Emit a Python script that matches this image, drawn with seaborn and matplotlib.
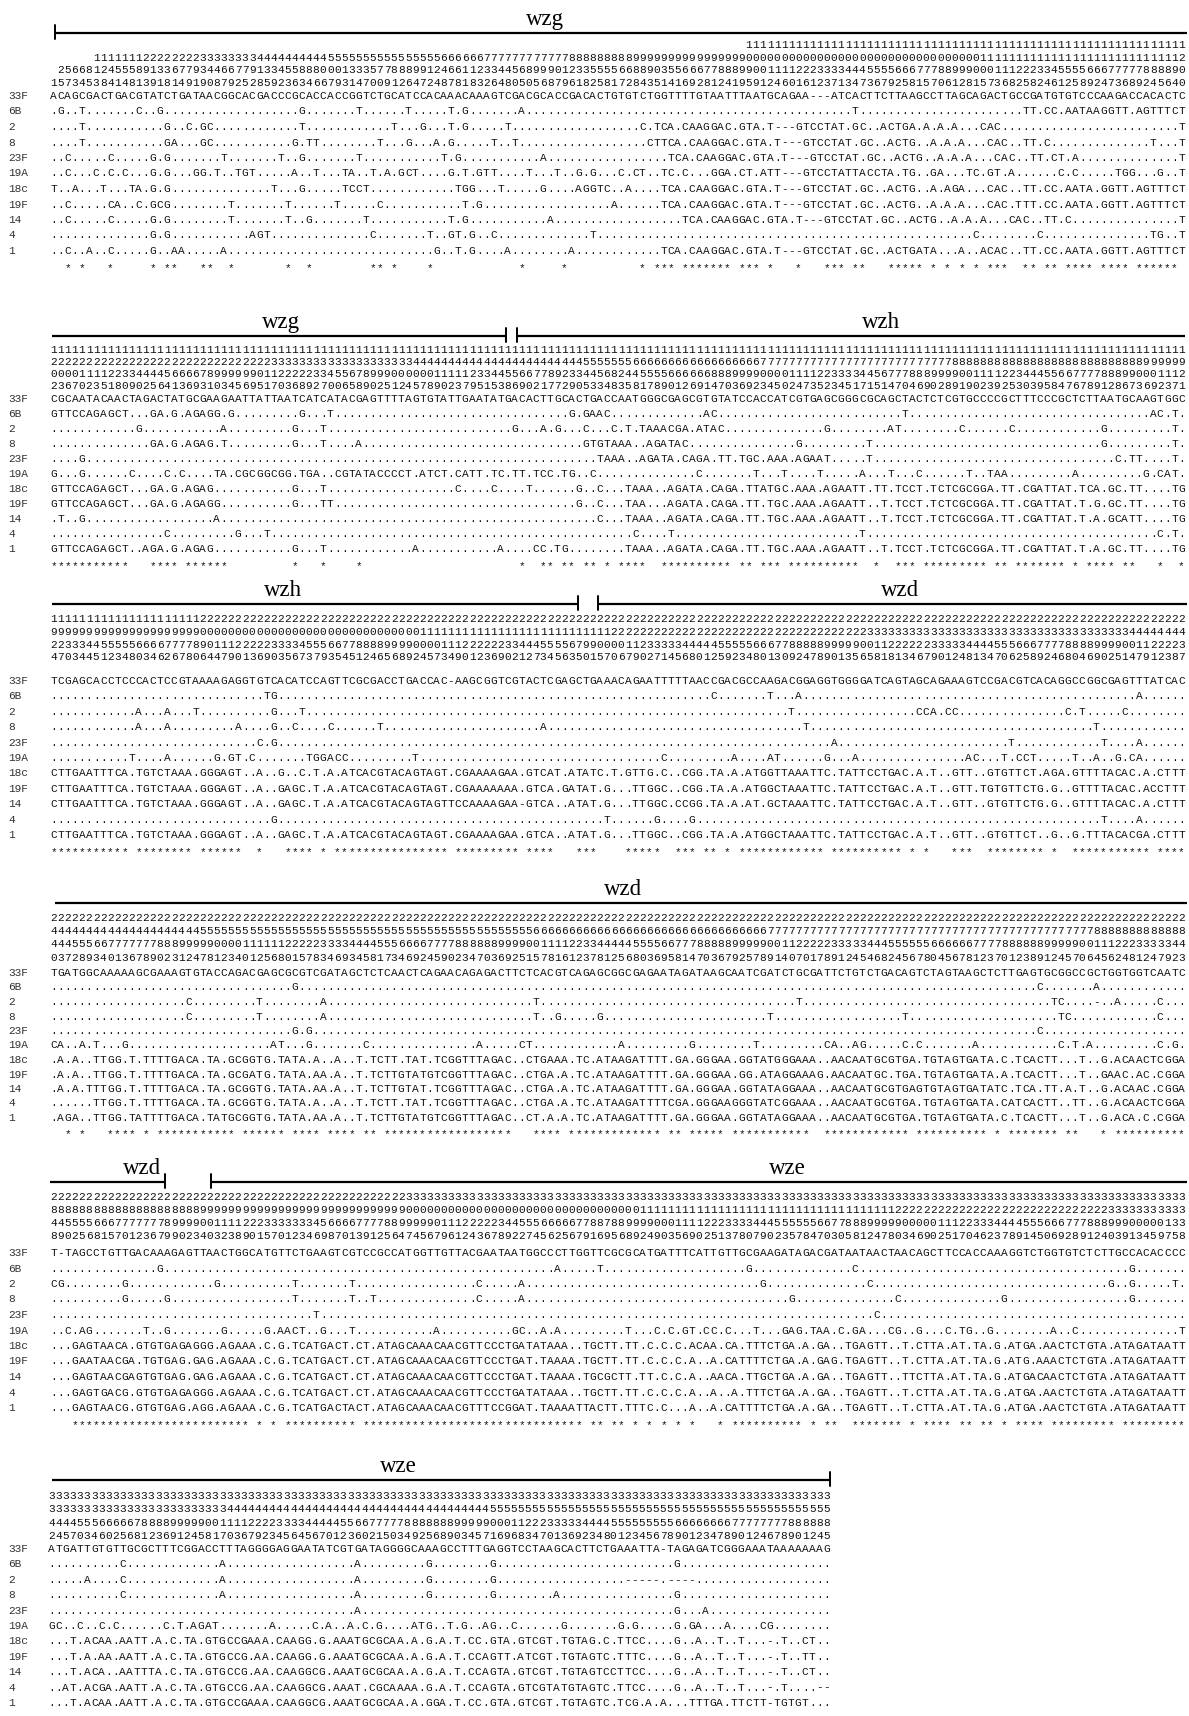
import matplotlib
matplotlib.use("Agg")
import matplotlib.pyplot as plt
from matplotlib.font_manager import FontProperties
import seaborn as sns

# ======================= DATA =======================
STRAINS = ["33F", "6B", "2", "8", "23F", "19A", "18c", "19F", "14", "4", "1"]

# ---------- block 1 (wzg) ----------
B1_RUN_A = [(" ", 98), ("1", 62)]
B1_RUN_B = [(" ", 6), ("1", 7), ("2", 8), ("3", 8), ("4", 10), ("5", 16), ("6", 6), ("7", 12),
            ("8", 9), ("9", 16), ("0", 33), ("1", 28), ("2", 1)]
B1_TENS = (" 25668124555891336779344667791334558880001333577888991246611233445689990123355",
           "555566889035566677888990011112223333444555566677788999000111222334555566677777888890")
B1_UNITS = ("157345384148139181491908792528592363466793147009126472487818326480505687961825",
            "258172843514169281241959124601612371347367925815706128157368258246125892473689245640")
B1_SEQ_L = [
    "ACAGCGACTGACGTATCTGATAACGGCACGACCCGCACCACCGGTCTGCATCCACAAACAAAGTCGACGCACCGACAC",
    ".G..T.......C..G...................G.......T......T.....T.G.......A..........",
    "....T...........G..C.GC............T............T...G...T.G.....T..........",
    "....T...........GA...GC...........G.TT........T...G...A.G.....T..T........",
    "..C.....C.....G.G.......T.......T..G.......T...........T.G...........A....",
    "..C...C.C.C...G.G...GG.T..TGT.....A..T...TA..T.A.GCT....G.T.GTT....T...T..G.G.",
    "T..A...T...TA.G.G..............T...G.....TCCT............TGG...T.....G....AGT",
    "..C.....CA..C.GCG........T.......T......T.....C...........T.G...............",
    "..C.....C.....G.G........T.......T..G.......T...........T.G...........A....",
    "..............G.G...........AGT..............C.......T..GT.G..C.............GT",
    "..C..A..C.....G..AA.....A.............................G..T.G....A........A....",
]
B1_SEQ_R = [
    "ACTGTGTCTGGTTTTGTAATTTAATGCAGAA---ATCACTTCTTAAGCCTTAGCAGACTGCCGATGTGTCCCAAGACCACACTC",
    "..................................T.......................TT.CC.AATAAGGTT.AGTTTCT",
    ".........C.TCA.CAAGGAC.GTA.T---GTCCTAT.GC..ACTGA.A.A.A...CAC.........................T",
    ".........CTTCA.CAAGGAC.GTA.T---GTCCTAT.GC..ACTG..A.A.A...CAC..TT.C..............T...T",
    "..........TCA.CAAGGAC.GTA.T---GTCCTAT.GC..ACTG..A.A.A...CAC..TT.CT.A..............T",
    "G...C.CT..TC.C...GGA.CT.ATT---GTCCTATTACCTA.TG..GA...TC.GT.A......C.C.....TGG...G..T",
    "GTC..A....TCA.CAAGGAC.GTA.T---GTCCTAT.GC..ACTG..A.AGA...CAC..TT.CC.AATA.GGTT.AGTTTCT",
    "...A......TCA.CAAGGAC.GTA.T---GTCCTAT.GC..ACTG..A.A.A...CAC.TTT.CC.AATA.GGTT.AGTTTCT",
    "..........TCA.CAAGGAC.GTA.T---GTCCTAT.GC..ACTG..A.A.A...CAC..TT.C...............T",
    "GT.....................................................C........C...............TG..T",
    "..........TCA.CAAGGAC.GTA.T---GTCCTAT.GC..ACTGATA...A..ACAC..TT.CC.AATA.GGTT.AGTTTCT",
]
B1_STARS = ("  * *   *     * **   **  *       *  *        ** *    *            *     *   **",
            "**       * *** ******* *** *   *   *** **   ***** * * * * ***  ** ** **** **** ****** ")

# ---------- block 2 (wzg | wzh) ----------
B2_RUN_A = [("1", 160)]
B2_RUN_B = [("2", 31), ("3", 20), ("4", 24), ("5", 7), ("6", 18), ("7", 27), ("8", 27), ("9", 6)]
B2_TENS = ("000011112233444456666789999990112222233455678999000000111112334455667789233455",
           "456824455556666668889999000011112233334456777888999900111122344455667777888990001112")
B2_UNITS = ("236702351809025641369310345695170368927006589025124578902379515386902177290533",
            "334835817890126914703692345024735234517151470469028919023925303958476789128673692371")
B2_SEQ_L = [
    "CGCAATACAACTAGACTATGCGAAGAATTATTAATCATCATACGAGTTTTAGTGTATTGAATATGACACTTGCACTGA",
    "GTTCCAGAGCT...GA.G.AGAGG.G.........G...T.................................G.GAC",
    "............G...........A.........G...T..........................G...A.G...C",
    "..............GA.G.AGAG.T.........G...T....A...............................G...C",
    "....G.........................................................................C",
    "G...G......C....C.C....TA.CGCGGCGG.TGA..CGTATACCCCT.ATCT.CATT.TC.TT.TCC.TG...C",
    "GTTCCAGAGCT...GA.G.AGAG...........G...T..................C....C....T......G.G.C",
    "GTTCCAGAGCT...GA.G.AGAGG..........G...TT..................................G...C",
    ".T..G..................A....................................................T..C",
    "................C.........G...T.............................................G..AC",
    "GTTCCAGAGCT..AGA.G.AGAG...........G...T............A...........A....CC.TG....",
]
B2_SEQ_R = [
    "GACCAATGGGCGAGCGTGTATCCACCATCGTGAGCGGGCGCAGCTACTCTCGTGCCCCGCTTTCCCGCTCTTAATGCAAGTGGC",
    "AC.............AC..........................T..................................AC.T.",
    ".C.T.TAAACGA.ATAC..............G........AT........C......C............G.........T.",
    ".C.TGTAAA..AGATAC...............G.........T................................G.........T.",
    ".C...TAAA..AGATA.CAGA.TT.TGC.AAA.AGAAT.....T..................................C.TT....T.",
    ".C..............C.......T...T....T.....A...T...C......T..TAA.........A.........G.CAT.",
    ".C...TAAA..AGATA.CAGA.TTATGC.AAA.AGAATT.TT.TCCT.TCTCGCGGA.TT.CGATTAT.TCA.GC.TT....TG",
    ".C...TAA...AGATA.CAGA.TT.TGC.AAA.AGAATT..T.TCCT.TCTCGCGGA.TT.CGATTAT.T.G.GC.TT....TG",
    ".C...TAAA..AGATA.CAGA.TT.TGC.AAA.AGAATT..T.TCCT.TCTCGCGGA.TT.CGATTAT.T.A.GCATT....TG",
    "ACT..............C....T..........................T.........................................C.T.",
    ".....TAAA..AGATA.CAGA.TT.TGC.AAA.AGAATT..T.TCCT.TCTCGCGGA.TT.CGATTAT.T.A.GC.TT....TG",
]
B2_STARS = ("***********   **** ******         *   *    *                      *  ** ** ***",
            "** * ****  ********** ** *** **********  *  *** ********* ** ******* * **** **   *  *")

# ---------- block 3 (wzh | wzd) ----------
B3_RUN_A = [("1", 21), ("2", 139)]
B3_RUN_B = [("9", 21), ("0", 31), ("1", 27), ("2", 36), ("3", 37), ("4", 8)]
B3_TENS = ("223334455555666677778901112222233334555667788889999000011122222233444555567999",
           "99900001123333344444555556667788888999990011222222333334444555666777788889999001122223")
B3_UNITS = ("470344512348034626780644790136903567379354512465689245734901236902127345635015",
            "157067902714568012592348013092478901356581813467901248134706258924680469025147912387")
B3_SEQ_L = [
    "TCGAGCACCTCCCACTCCGTAAAAGAGGTGTCACATCCAGTTCGCGACCTGACCAC-AAGCGGTCGTACTCGAGCTGA",
    "..............................TG..............................................",
    "............A...A...T..........G...T..........................................",
    "............A...A.........A....G..C....C......T......................A.......",
    ".............................C.G..............................................",
    "...........T....A......G.GT.C.......TGGACC.........T............................",
    "CTTGAATTTCA.TGTCTAAA.GGGAGT..A..G..C.T.A.ATCACGTACAGTAGT.CGAAAAGAA.GTCAT.ATATC",
    "CTTGAATTTCA.TGTCTAAA.GGGAGT..A..GAGC.T.A.ATCACGTACAGTAGT.CGAAAAAAA.GTCA.GATAT.",
    "CTTGAATTTCA.TGTCTAAA.GGGAGT..A..GAGC.T.A.ATCACGTACAGTAGTTCCAAAAGAA-GTCA..ATAT.",
    "...............................G..............................................",
    "CTTGAATTTCA.TGTCTAAA.GGGAGT..A..GAGC.T.A.ATCACGTACAGTAGT.CGAAAAGAA.GTCA..ATAT.",
]
B3_SEQ_R = [
    "GAAACAGAATTTTTAACCGACGCCAAGACGGAGGTGGGGATCAGTAGCAGAAAGTCCGACGTCACAGGCCGGCGAGTTTATCAC",
    "..................C.......T...A...............................................A......",
    "..........................T.................CCA.CC...............C.T.....C........",
    "..........................T........................................T............",
    "..................................A........................T............T....A......",
    "..........C.........A....AT......G...A...............AC...T.CCT.....T..A..G.CA......",
    "TC.T.GTTG.C..CGG.TA.A.ATGGTTAAATTC.TATTCCTGAC.A.T..GTT..GTGTTCT.AGA.GTTTTACAC.A.CTTT",
    "T.G...TTGGC..CGG.TA.A.ATGGCTAAATTC.TATTCCTGAC.A.T..GTT.TGTGTTCTG.G..GTTTTACAC.ACCTTT",
    "T.G...TTGGC.CCGG.TA.A.AT.GCTAAATTC.TATTCCTGAC.A.T..GTT..GTGTTCTG.G..GTTTTACAC.A.CTTT",
    ".....T......G....G.........................................................T....A......",
    "T.G...TTGGC..CGG.TA.A.ATGGCTAAATTC.TATTCCTGAC.A.T..GTT..GTGTTCT..G..G.TTTACACGA.CTTT",
]
B3_STARS = ("*********** ******** ******  *   **** * **************** ********* ****   ****",
            "* *    *****  *** ** * ************ ********** * *   ***  ******** *  *********** ****")

# ---------- block 4 (wzd) ----------
B4_RUN_A = [("2", 160)]
B4_RUN_B = [("4", 21), ("5", 47), ("6", 33), ("7", 46), ("8", 13)]
B4_TENS = ("444555667777777888999990000111111222223333444455566667777888888999900111122333",
           "3344444555566777888889999900112222233333444555555666666777788888899999001112223333344")
B4_UNITS = ("037289340136789023124781234012568015783469345817346924590234703692515781612378",
            "781256803695814703679257891407017891245468245678045678123701238912457064562481247923")
B4_SEQ_L = [
    "TGATGGCAAAAAGCGAAAGTGTACCAGACGAGCGCGTCGATAGCTCTCAACTCAGAACAGAGACTTCTCACGTCAGAG",
    "..................................G...........................................",
    "...................C.........T........A.............................T........",
    "...................C.........T........A.............................T..G.....",
    "..................................G.G.........................................",
    "CA..A.T...G....................AT...G.......C...............A.....CT..........",
    ".A.A..TTGG.T.TTTTGACA.TA.GCGGTG.TATA.A..A..T.TCTT.TAT.TCGGTTTAGAC..CTGAAA.TC.A",
    ".A.A..TTGG.T.TTTTGACA.TA.GCGATG.TATA.AA.A..T.TCTTGTATGTCGGTTTAGAC..CTGA.A.TC.A",
    ".A.A.TTTGG.T.TTTTGACA.TA.GCGGTG.TATA.AA.A..T.TCTTGTAT.TCGGTTTAGAC..CTGA.A.TC.A",
    "......TTGG.T.TTTTGACA.TA.GCGGTG.TATA.A..A..T.TCTT.TAT.TCGGTTTAGAC..CTGA.A.TC.A",
    ".AGA..TTGG.TATTTTGACA.TATGCGGTG.TATA.AA.A..T.TCTTGTATGTCGGTTTAGAC..CT.A.A.TC.A",
]
B4_SEQ_R = [
    "AGCGGCGAGAATAGATAAGCAATCGATCTGCGATTCTGTCTGACAGTCTAGTAAGCTCTTGAGTGCGGCCGCTGGTGGTCAATC",
    "...............................................................C.......A............",
    "........................T...................................TC....-..A.....C...",
    "G.......................T..................T.....................TC............C...",
    "...............................................................C....................",
    "...A.........G........T.........CA..AG.....C.C.......A...........C.T.A.........C.G.",
    ".ATAAGATTTT.GA.GGGAA.GGTATGGGAAA..AACAATGCGTGA.TGTAGTGATA.C.TCACTT...T..G.ACAACTCGGA",
    ".ATAAGATTTT.GA.GGGAA.GG.ATAGGAAAG.AACAATGC.TGA.TGTAGTGATA.A.TCACTT...T..GAAC.AC.CGGA",
    ".ATAAGATTTT.GA.GGGAA.GGTATAGGAAA..AACAATGCGTGAGTGTAGTGATATC.TCA.TT.A.T..G.ACAAC.CGGA",
    ".ATAAGATTTTCGA.GGGAAGGGTATCGGAAA..AACAATGCGTGA.TGTAGTGATA.CATCACTT..TT..G.ACAACTCGGA",
    ".ATAAGATTTT.GA.GGGAA.GGTATAGGAAA..AACAATGCGTGA.TGTAGTGATA.C.TCACTT...T..G.ACA.C.CGGA",
]
B4_STARS = ("  * *   **** * *********** ****** **** **** ** ******************   **** **** *",
            "********** ** ***** ***********  ************ ********** * ******* **   * **********")

# ---------- block 5 (wzd | wze) ----------
B5_RUN_A = [("2", 50), ("3", 110)]
B5_RUN_B = [("8", 21), ("9", 29), ("0", 33), ("1", 36), ("2", 30), ("3", 11)]
B5_TENS = ("445555666777777789999001111222333333345666677778899999011122222344555666667788",
           "7889999000111122233334445555556677888999990000011122333444455566677788899900000133")
B5_UNITS = ("890256815701236799023403238901570123469870139125647456796124367892274562567916",
            "169568924903569025137807902357847030581247803469025170462378914506928912403913459758")
B5_SEQ_L = [
    "T-TAGCCTGTTGACAAAGAGTTAACTGGCATGTTCTGAAGTCGTCCGCCATGGTTGTTACGAATAATGGCCCTTGGTT",
    "...............G.......................................................A......",
    "CG........G............G..........T.......T.................C.....A...........",
    "..........G.....G.................T.......T..T..............C.....A...........",
    ".....................................T........................................",
    "..C.AG.......T..G.......G.....G.AACT..G...T...........A..........GC..A.A.......",
    "...GAGTAACA.GTGTGAGAGGG.AGAAA.C.G.TCATGACT.CT.ATAGCAAACAACGTTCCCTGATATAAA..TGC",
    "...GAATAACGA.TGTGAG.GAG.AGAAA.C.G.TCATGACT.CT.ATAGCAAACAACGTTCCCTGAT.TAAAA.TGC",
    "...GAGTAACGAGTGTGAG.GAG.AGAAA.C.G.TCATGACT.CT.ATAGCAAACAACGTTCCCTGAT.TAAAA.TGC",
    "...GAGTGACG.GTGTGAGAGGG.AGAAA.C.G.TCATGACT.CT.ATAGCAAACAACGTTCCCTGATATAAA..TGC",
    "...GAGTAACG.GTGTGAG.AGG.AGAAA.C.G.TCATGACTACT.ATAGCAAACAACGTTTCCGGAT.TAAAATTAC",
]
B5_SEQ_R = [
    "TTCGCGCATGATTTCATTGTTGCGAAGATAGACGATAATAACTAACAGCTTCCACCAAAGGTCTGGTGTCTCTTGCCACACCCC",
    "....T....................G..............C......................................G.......",
    ".........................G..............C.................................G..G.....T.",
    "..........................G..............C..............G.................G.......",
    "........................................C...........................................",
    ".....T...C.C.GT.CC.C...T...GAG.TAA.C.GA...CG..G...C.TG..G........A..C..............T",
    "GCTT.TT.C.C.C.ACAA.CA.TTTCTGA.A.GA..TGAGTT..T.CTTA.AT.TA.G.ATGA.AACTCTGTA.ATAGATAATT",
    "GCTT.TT.C.C.C.A..A.CATTTTCTGA.A.GAG.TGAGTT..T.CTTA.AT.TA.G.ATG.AAACTCTGTA.ATAGATAATT",
    "GCTT.TT.C.C.A..AACA.TTGCTGA.A.GA..TGAGTT..TTCTTA.AT.TA.G.ATGACAACTCTGTA.ATAGATAATT",
    "GCTT.TT.C.C.C.A..A..A.TTTCTGA.A.GA..TGAGTT..T.CTTA.AT.TA.G.ATGA.AACTCTGTA.ATAGATAATT",
    "ACTT.TTTC.C...A..A.CATTTTCTGA.A.GA..TGAGTT..T.CTTA.AT.TA.G.ATGA.AACTCTGTA.ATAGATAATT",
]
B5_STARS = ("   ************************* * * ********** ******************************* ***",
            "**** ** * * * * *   * ********** * **  ******* * **** ** ** * **** ********* *********")

# ---------- block 6 (wze) ----------
B6_RUN_A = [("3", 110)]
B6_RUN_B = [("3", 25), ("4", 37), ("5", 48)]
B6_TENS = ("444455566666788889999900111122223333444445566777778888",
           "8888899999000112223333344445555555556666666677777777888888")
B6_UNITS = ("245703460256812369124581703679234564567012360215034925",
            "2568903457169683470136923480123456789012347890124678901245")
B6_SEQ_L = [
    "ATGATTGTGTTGCGCTTTCGGACCTTTAGGGGAGGAATATCGTGATAGGGGCAA",
    "..........C.............A..................A.........G",
    ".....A....C.............A..................A.........G",
    "..........C.............A..................A.........G",
    "...........................................A..........",
    "GC..C..C.C......C.T.AGAT.......A.....C.A..A.C.G....ATG",
    "...T.ACAA.AATT.A.C.TA.GTGCCGAAA.CAAGG.G.AAATGCGCAA.A.G",
    "...T.A.AA.AATT.A.C.TA.GTGCCG.AA.CAAGG.G.AAATGCGCAA.A.G",
    "...T.ACA..AATTTA.C.TA.GTGCCG.AA.CAAGGCG.AAATGCGCAA.A.G",
    "..AT.ACGA.AATT.A.C.TA.GTGCCG.AA.CAAGGCG.AAAT.CGCAAAA.G",
    "...T.ACAA.AATT.A.C.TA.GTGCCGAAA.CAAGGCG.AAATGCGCAA.A.G",
]
B6_SEQ_R = [
    "AAAGCCTTTGAGGTCCTAAGCACTTCTGAAATTA-TAGAGATCGGGAAATAAAAAAAG",
    ".G........G.........................G.....................",
    ".G........G..................-----.----...................",
    ".G........G........A................G.....................",
    "....................................G...A.................",
    "TG..T.G..AG..C......G.......G.G.....G.GA...A....CG........",
    ".G.A.T.CC.GTA.GTCGT.TGTAG.C.TTCC....G..A..T..T...-.T..CT..",
    ".G.A.T.CCAGTT.ATCGT.TGTAGTC.TTTC....G..A..T..T...-.T..TT..",
    ".G.A.T.CCAGTA.GTCGT.TGTAGTCCTTCC....G..A..T..T...-.T..CT..",
    ".G.A.T.CCAGTA.GTCGTATGTAGTC.TTCC....G..A..T..T...-.T....--",
    ".GGA.T.CC.GTA.GTCGT.TGTAGTC.TCG.A.A...TTTGA.TTCTT-TGTGT...",
]

BLOCK_DATA = [
    (B1_RUN_A, B1_RUN_B, B1_TENS, B1_UNITS, B1_SEQ_L, B1_SEQ_R, B1_STARS),
    (B2_RUN_A, B2_RUN_B, B2_TENS, B2_UNITS, B2_SEQ_L, B2_SEQ_R, B2_STARS),
    (B3_RUN_A, B3_RUN_B, B3_TENS, B3_UNITS, B3_SEQ_L, B3_SEQ_R, B3_STARS),
    (B4_RUN_A, B4_RUN_B, B4_TENS, B4_UNITS, B4_SEQ_L, B4_SEQ_R, B4_STARS),
    (B5_RUN_A, B5_RUN_B, B5_TENS, B5_UNITS, B5_SEQ_L, B5_SEQ_R, B5_STARS),
    (B6_RUN_A, B6_RUN_B, B6_TENS, B6_UNITS, B6_SEQ_L, B6_SEQ_R, None),
]

# gene brackets: (block, gene, label_x, seg_start, seg_end, tick_at_start, tick_at_end)
GENE_BRACKETS = [
    (0, "wzg", 545, 55, 1187, True, False),
    (1, "wzg", 281, 52, 506, False, True),
    (1, "wzh", 881, 517, 1185, True, False),
    (2, "wzh", 283, 52, 578, False, True),
    (2, "wzd", 900, 598, 1187, True, False),
    (3, "wzd", 623, 55, 1187, False, False),
    (4, "wzd", 142, 50, 165, False, True),
    (4, "wze", 787, 211, 1187, True, False),
    (5, "wze", 398, 52, 830, False, True),
]

# ======================= LAYOUT (pixels) =======================
LAYOUT = [
    dict(w=160, x0=50, x1=1185, rmax=84, line=33,   ny=44,   ndy=12.6, sy=95,   sdy=15.5),
    dict(w=160, x0=50, x1=1185, rmax=84, line=336,  ny=349,  ndy=12.0, sy=398,  sdy=15.0),
    dict(w=160, x0=50, x1=1185, rmax=84, line=604,  ny=618,  ndy=12.8, sy=680,  sdy=15.4),
    dict(w=160, x0=50, x1=1185, rmax=84, line=903,  ny=917,  ndy=13.2, sy=972,  sdy=14.5),
    dict(w=160, x0=50, x1=1185, rmax=84, line=1182, ny=1196, ndy=13.0, sy=1252, sdy=15.5),
    dict(w=110, x0=48, x1=830,  rmax=58, line=1480, ny=1495, ndy=13.3, sy=1548, sdy=15.4),
]
BASE_OFF = 4.0   # baseline below row centre


def runs_to_text(runs):
    return "".join(ch * n for ch, n in runs)


def compose(left, right, width, rmax, fill):
    right = right[-rmax:]
    nleft = width - len(right)
    left = left[:nleft]
    return left + fill * (nleft - len(left)) + right


sns.set_theme(style="white")
plt.rcParams["font.family"] = ["Liberation Mono", "DejaVu Sans Mono"]

MONO = FontProperties(family="Liberation Mono", size=8)
SERIF = FontProperties(family="Liberation Serif", size=16.5)

fig = plt.figure(figsize=(11.89, 17.16), dpi=100)
fig.patch.set_facecolor("white")
ax = fig.add_axes([0, 0, 1, 1])
ax.set_xlim(0, 1189)
ax.set_ylim(1716, 0)
ax.axis("off")


def draw_row(text, lay, yc, color="#111111"):
    pitch = (lay["x1"] - lay["x0"]) / lay["w"]
    yb = yc + BASE_OFF
    for i, ch in enumerate(text):
        if ch != " ":
            ax.text(lay["x0"] + pitch * (i + 0.5), yb, ch, ha="center", va="baseline",
                    fontproperties=MONO, color=color)


for b, (run_a, run_b, tens, units, seq_l, seq_r, stars) in enumerate(BLOCK_DATA):
    lay = LAYOUT[b]
    w, rmax = lay["w"], lay["rmax"]
    num_rows = [runs_to_text(run_a), runs_to_text(run_b),
                compose(tens[0], tens[1], w, rmax, " "),
                compose(units[0], units[1], w, rmax, " ")]
    for k, row in enumerate(num_rows):
        draw_row(row[:w], lay, lay["ny"] + k * lay["ndy"])
    for r, (l, rr) in enumerate(zip(seq_l, seq_r)):
        yc = lay["sy"] + r * lay["sdy"]
        fill = " " if r == 0 else "."
        draw_row(compose(l, rr, w, rmax, fill), lay, yc)
        ax.text(8, yc + BASE_OFF, STRAINS[r], ha="left", va="baseline",
                fontproperties=MONO, color="#333333")
    if stars is not None:
        yc = lay["sy"] + len(seq_l) * lay["sdy"]
        draw_row(compose(stars[0], stars[1], w, rmax, " "), lay, yc + 2)

for b, gene, lx, xs, xe, t0, t1 in GENE_BRACKETS:
    ly = LAYOUT[b]["line"]
    ax.plot([xs, xe], [ly, ly], color="black", lw=1.6, solid_capstyle="butt")
    if t0:
        ax.plot([xs, xs], [ly - 8, ly + 6], color="black", lw=1.4)
    if t1:
        ax.plot([xe, xe], [ly - 8, ly + 6], color="black", lw=1.4)
    ax.text(lx, ly - 8, gene, ha="center", va="baseline", fontproperties=SERIF, color="black")

fig.savefig("out.png", dpi=100, facecolor="white")
